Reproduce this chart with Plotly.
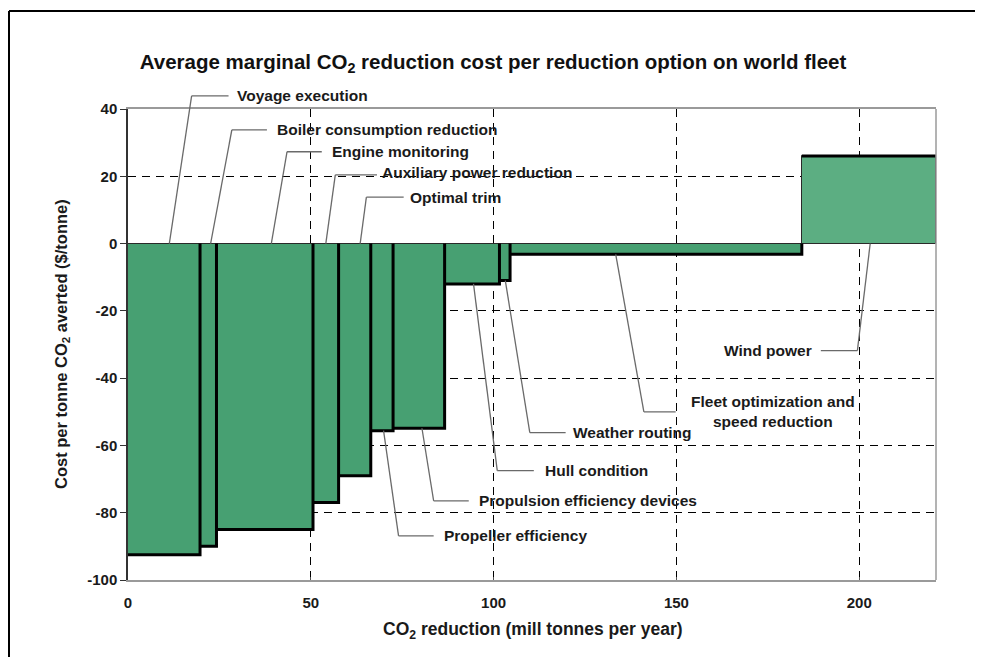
import numpy as np
import plotly.graph_objects as go

# ---------------- data ----------------
options = [
    "Voyage execution",
    "Boiler consumption reduction",
    "Engine monitoring",
    "Auxiliary power reduction",
    "Optimal trim",
    "Propeller efficiency",
    "Propulsion efficiency devices",
    "Hull condition",
    "Weather routing",
    "Fleet optimization and<br>speed reduction",
    "Wind power",
]
# CO2 reduction per option (mill tonnes per year) = bar widths
reduction = [19.7, 4.5, 26.4, 7.0, 8.8, 6.1, 14.1, 15.0, 2.9, 79.8, 36.7]
# average marginal cost ($/tonne) = bar heights
cost = [-92.5, -90.0, -85.0, -77.0, -69.0, -55.6, -54.9, -12.0, -11.0, -3.2, 26.0]

x_ticks = [0, 50, 100, 150, 200]
y_ticks = [40, 20, 0, -20, -40, -60, -80, -100]

# label leader layout: (anchor x, elbow x, elbow y, line end x, text x, text anchor)
label_pos = [
    (11.3, 17.4, 43.9, 27.5, 29.3, "left"),
    (22.6, 28.4, 33.8, 38.0, 40.3, "left"),
    (39.2, 43.5, 27.3, 53.0, 55.3, "left"),
    (54.1, 56.7, 20.4, 68.1, 69.0, "left"),
    (63.5, 65.2, 13.8, 75.4, 76.7, "left"),
    (69.9, 74.0, -86.9, 83.6, 85.9, "left"),
    (80.4, 83.6, -76.5, 93.2, 95.5, "left"),
    (94.5, 101.0, -67.5, 111.0, 113.6, "left"),
    (103.2, 109.9, -56.2, 119.7, 121.2, "left"),
    (133.4, 141.1, -50.0, 149.8, 176.3, "center"),
    (203.0, 199.5, -31.8, 189.5, 187.6, "right"),
]

X_RANGE = [0, 221]
Y_RANGE = [-100, 40]

# ---------------- geometry from data ----------------
w = np.array(reduction)
right = np.cumsum(w)
left = right - w
centers = (left + right) / 2

FONT = "Liberation Sans, Arial, sans-serif"

# page is offset by the 8px body margin
OFF = 8
W, H = 983 - OFF, 657 - OFF
L, R, T, B = 128 - OFF, 47, 109 - OFF, 77
pw, ph = W - L - R, H - T - B


def pxx(p):  # page pixel x -> paper
    return (p - OFF - L) / pw


def pxy(p):  # page pixel y -> paper
    return (H - B - (p - OFF)) / ph


def py(v):  # data y -> paper
    return (v - Y_RANGE[0]) / (Y_RANGE[1] - Y_RANGE[0])


fig = go.Figure()

neg_col = "#47a072"
pos_col = "#5cae82"
fig.add_trace(go.Bar(
    x=centers, y=cost, width=w, base=0,
    marker=dict(color=[neg_col if c < 0 else pos_col for c in cost],
                line=dict(color="#2a2a2a", width=1)),
    hoverinfo="skip", showlegend=False,
))

# thick dark shadow edges (bottom + right of negative bars, top of positive)
sx, sy = [], []
for l, r, c in zip(left, right, cost):
    if c < 0:
        sx += [l, r, r, None]
        sy += [c, c, 0, None]
    else:
        sx += [l, r, None]
        sy += [c, c, None]
fig.add_trace(go.Scatter(x=sx, y=sy, mode="lines",
                         line=dict(color="#000000", width=3),
                         hoverinfo="skip", showlegend=False))

shapes = []
annotations = []
for name, c, (ax_, ex, ey, endx, tx, anch) in zip(options, cost, label_pos):
    ay = 0 if ey > 0 else min(c, 0)
    lc = dict(color="#6a6a6a", width=1.3)
    shapes.append(dict(type="line", xref="x", yref="paper",
                       x0=ax_, y0=py(ay), x1=ex, y1=py(ey), line=lc))
    shapes.append(dict(type="line", xref="x", yref="paper",
                       x0=ex, y0=py(ey), x1=endx, y1=py(ey), line=lc))
    ty = ey + (0.8 if name.startswith("Auxiliary") else 0)
    annotations.append(dict(x=tx, y=py(ty), xref="x", yref="paper",
                            text=f"<b>{name}</b>",
                            showarrow=False, xanchor=anch, yanchor="middle",
                            align="center",
                            font=dict(family=FONT, size=15.5, color="#1a1a1a")))

# right border of plot area
shapes.append(dict(type="line", xref="paper", yref="paper", x0=1, x1=1, y0=0, y1=1,
                   line=dict(color="#9a9a9a", width=1.5)))
# outer frame (top and left)
shapes.append(dict(type="line", xref="paper", yref="paper",
                   x0=pxx(9), x1=pxx(995), y0=pxy(11), y1=pxy(11),
                   line=dict(color="#000", width=2)))
shapes.append(dict(type="line", xref="paper", yref="paper",
                   x0=pxx(9), x1=pxx(9), y0=pxy(11), y1=pxy(670),
                   line=dict(color="#000", width=2)))

# axis titles
annotations.append(dict(xref="paper", yref="paper", x=pxx(533), y=pxy(630),
                        text="<b>CO<sub>2</sub> reduction (mill tonnes per year)</b>",
                        showarrow=False, xanchor="center", yanchor="middle",
                        font=dict(family=FONT, size=17.5, color="#1a1a1a")))
annotations.append(dict(xref="paper", yref="paper", x=pxx(62), y=pxy(344),
                        text="<b>Cost per tonne CO<sub>2</sub> averted ($/tonne)</b>",
                        showarrow=False, textangle=-90, xanchor="center", yanchor="middle",
                        font=dict(family=FONT, size=16.5, color="#1a1a1a")))

fig.update_layout(
    width=W, height=H,
    margin=dict(l=L, r=R, t=T, b=B),
    paper_bgcolor="white", plot_bgcolor="white",
    title=dict(text="<b>Average marginal CO<sub>2</sub> reduction cost per reduction option on world fleet</b>",
               x=pxx(493), xref="paper", xanchor="center",
               y=1 - (62 - OFF) / H, yref="container", yanchor="middle",
               font=dict(family=FONT, size=20.5, color="#111")),
    shapes=shapes, annotations=annotations,
    bargap=0,
)
fig.update_xaxes(range=X_RANGE, tickvals=x_ticks,
                 ticktext=[f"<b>{v}</b>" for v in x_ticks],
                 showgrid=True, gridcolor="#000", gridwidth=1, griddash="8px,6px",
                 zeroline=False, showline=True, linecolor="#9a9a9a", linewidth=1.5,
                 mirror=True, ticks="inside", ticklen=3, tickcolor="#555",
                 ticklabelstandoff=8,
                 tickfont=dict(family=FONT, size=15, color="#1a1a1a"))
fig.update_yaxes(range=Y_RANGE, tickvals=y_ticks,
                 ticktext=[f"<b>{v}</b>" for v in y_ticks],
                 showgrid=True, gridcolor="#000", gridwidth=1, griddash="8px,6px",
                 zeroline=False, showline=True, linecolor="#333", linewidth=1.5,
                 ticks="outside", ticklen=6, tickcolor="#333",
                 tickfont=dict(family=FONT, size=15, color="#1a1a1a"))

fig.write_html("out.html")
